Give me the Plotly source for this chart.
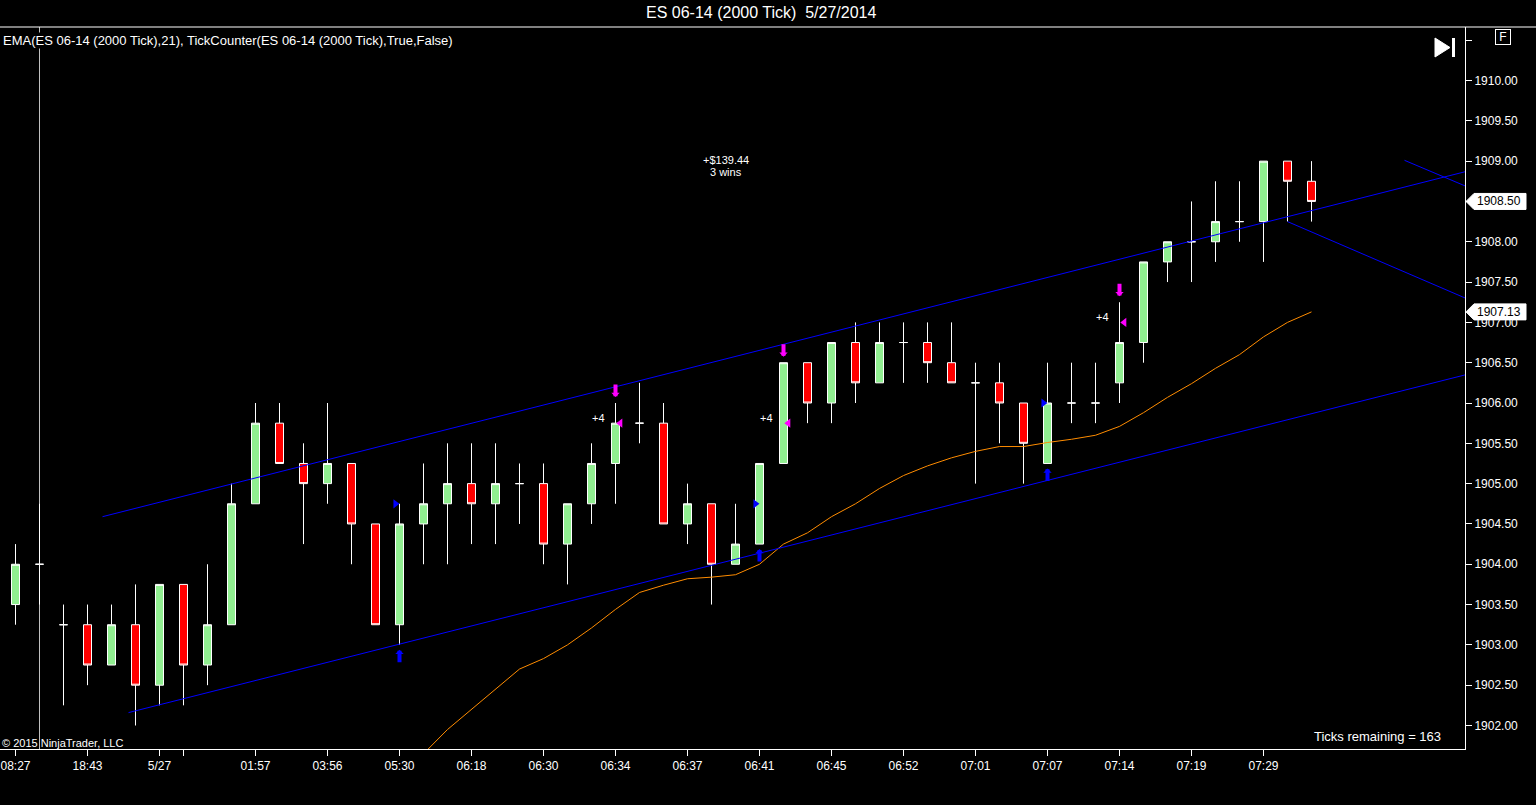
import plotly.graph_objects as go

# ES 06-14, 2000 tick bars, 5/27/2014 -- bar index on x
bars = list(range(55))
opens = [1903.50, 1904.00, 1903.25, 1903.25, 1902.75, 1903.25, 1902.50, 1903.75, 1902.75, 1903.25,
         1904.75, 1905.75, 1905.25, 1905.00, 1905.25, 1904.50, 1903.25, 1904.50, 1904.75, 1905.00,
         1904.75, 1905.00, 1905.00, 1904.25, 1904.75, 1905.25, 1905.75, 1905.75, 1904.50, 1904.75,
         1904.00, 1904.25, 1905.25, 1906.50, 1906.00, 1906.75, 1906.25, 1906.75, 1906.75, 1906.50,
         1906.25, 1906.25, 1906.00, 1905.25, 1906.00, 1906.00, 1906.25, 1906.75, 1907.75, 1908.00,
         1908.00, 1908.25, 1908.25, 1909.00, 1908.75]
highs = [1904.25, 1904.75, 1903.50, 1903.50, 1903.50, 1903.75, 1903.75, 1903.75, 1904.00, 1905.00,
         1906.00, 1906.00, 1905.50, 1906.00, 1905.25, 1904.50, 1904.75, 1905.25, 1905.50, 1905.50,
         1905.50, 1905.25, 1905.25, 1904.75, 1905.50, 1906.00, 1906.25, 1906.00, 1905.00, 1904.75,
         1904.75, 1905.25, 1906.50, 1906.50, 1906.75, 1907.00, 1907.00, 1907.00, 1907.00, 1907.00,
         1906.50, 1906.50, 1906.00, 1906.50, 1906.50, 1906.50, 1907.25, 1907.75, 1908.00, 1908.50,
         1908.75, 1908.75, 1909.00, 1909.00, 1909.00]
lows = [1903.25, 1903.50, 1902.25, 1902.50, 1902.75, 1902.00, 1902.25, 1902.25, 1902.50, 1903.25,
        1904.75, 1905.25, 1904.25, 1904.75, 1904.00, 1903.25, 1903.00, 1904.00, 1904.00, 1904.25,
        1904.25, 1904.50, 1904.00, 1903.75, 1904.50, 1904.75, 1905.50, 1904.50, 1904.25, 1903.50,
        1904.00, 1904.25, 1905.25, 1905.75, 1905.75, 1906.00, 1906.25, 1906.25, 1906.25, 1906.25,
        1905.00, 1905.50, 1905.00, 1905.25, 1905.75, 1905.75, 1906.00, 1906.50, 1907.50, 1907.50,
        1907.75, 1908.00, 1907.75, 1908.25, 1908.25]
closes = [1904.00, 1904.00, 1903.25, 1902.75, 1903.25, 1902.50, 1903.75, 1902.75, 1903.25, 1904.75,
          1905.75, 1905.25, 1905.00, 1905.25, 1904.50, 1903.25, 1904.50, 1904.75, 1905.00, 1904.75,
          1905.00, 1905.00, 1904.25, 1904.75, 1905.25, 1905.75, 1905.75, 1904.50, 1904.75, 1904.00,
          1904.25, 1905.25, 1906.50, 1906.00, 1906.75, 1906.25, 1906.75, 1906.75, 1906.50, 1906.25,
          1906.25, 1906.00, 1905.50, 1906.00, 1906.00, 1906.00, 1906.75, 1907.75, 1908.00, 1908.00,
          1908.25, 1908.25, 1909.00, 1908.75, 1908.50]
# EMA(21) - only the part that is inside the visible price range
ema21 = [None] * 16 + [
    1901.40, 1901.65, 1901.95, 1902.20, 1902.45, 1902.70, 1902.83, 1903.00, 1903.21, 1903.44,
    1903.65, 1903.74, 1903.82, 1903.84, 1903.87, 1904.00, 1904.25, 1904.39, 1904.59, 1904.75,
    1904.94, 1905.10, 1905.22, 1905.32, 1905.40, 1905.46, 1905.46, 1905.51, 1905.55, 1905.60,
    1905.71, 1905.88, 1906.07, 1906.24, 1906.43, 1906.60, 1906.82, 1907.00, 1907.13]

tick_bars = [0, 3, 6, 7, 10, 13, 16, 19, 22, 25, 28, 31, 34, 37, 40, 43, 46, 49, 52]
tick_labels = ['08:27', '18:43', '5/27', '', '01:57', '03:56', '05:30', '06:18', '06:30', '06:34',
               '06:37', '06:41', '06:45', '06:52', '07:01', '07:07', '07:14', '07:19', '07:29']
price_ticks = [1902.0, 1902.5, 1903.0, 1903.5, 1904.0, 1904.5, 1905.0, 1905.5, 1906.0,
               1906.5, 1907.0, 1907.5, 1908.0, 1908.5, 1909.0, 1909.5, 1910.0, 1910.5]
price_labels = ['1902.00', '1902.50', '1903.00', '1903.50', '1904.00', '1904.50', '1905.00',
                '1905.50', '1906.00', '1906.50', '1907.00', '1907.50', '1908.00', '1908.50',
                '1909.00', '1909.50', '1910.00', '']

# drawn trend lines: (bar, price) end points
upper_channel = [(3.625, 1904.59), (60.42, 1908.87)]
lower_channel = [(4.71, 1902.16), (60.42, 1906.35)]
down_line_a = [(53.0, 1908.25), (60.42, 1907.30)]
down_line_b = [(57.875, 1909.01), (60.42, 1908.69)]

# TickCounter trades
entry_bars = [16, 31, 43]
entry_prices = [1904.75, 1904.75, 1906.00]
exit_bars = [25, 32, 46]
exit_prices = [1905.75, 1905.75, 1907.00]
trade_ticks = ['+4', '+4', '+4']

session_break_bar = 1

# plot area in screen pixels
W, H = 1536, 805
PLOT_R, PLOT_T, PLOT_B = 1465, 27, 749
# half pixel offsets keep 1px wicks crisp
X_RANGE = [-0.6458, 60.396]
Y_RANGE = [1901.7085, 1910.6636]
FONT = 'Liberation Sans, Arial, sans-serif'


def px_x(px):
    return px / PLOT_R


def px_y(py):
    return (PLOT_B - py) / (PLOT_B - PLOT_T)


fig = go.Figure()

fig.add_trace(go.Candlestick(
    x=bars, open=opens, high=highs, low=lows, close=closes,
    increasing=dict(line=dict(color='white', width=1), fillcolor='#90EE90'),
    decreasing=dict(line=dict(color='white', width=1), fillcolor='#FF0000'),
    whiskerwidth=0, hoverinfo='skip'))

fig.add_trace(go.Scatter(x=bars, y=ema21, mode='lines',
                         line=dict(color='#FF8C00', width=1), hoverinfo='skip'))

for seg in [upper_channel, lower_channel, down_line_a, down_line_b]:
    fig.add_trace(go.Scatter(x=[p[0] for p in seg], y=[p[1] for p in seg], mode='lines',
                             line=dict(color='#0000FF', width=1), hoverinfo='skip'))

fig.add_trace(go.Scatter(x=[b - 0.17 for b in entry_bars], y=entry_prices, mode='markers',
                         marker=dict(symbol='triangle-right', size=8, color='#0000FF'),
                         hoverinfo='skip'))
fig.add_trace(go.Scatter(x=[b + 0.2 for b in exit_bars], y=exit_prices, mode='markers',
                         marker=dict(symbol='triangle-left', size=8, color='#FF00FF'),
                         hoverinfo='skip'))

# signal arrows
for b in entry_bars:
    fig.add_annotation(x=b, y=lows[b], ax=0, ay=19, text='', showarrow=True, font=dict(size=1),
                       arrowhead=1, arrowsize=0.35, arrowwidth=4, arrowcolor='#0000FF', standoff=5)
for b in exit_bars:
    fig.add_annotation(x=b, y=highs[b], ax=0, ay=-20, text='', showarrow=True, font=dict(size=1),
                       arrowhead=1, arrowsize=0.35, arrowwidth=4, arrowcolor='#FF00FF', standoff=6)
for b, p, t in zip(exit_bars, exit_prices, trade_ticks):
    fig.add_annotation(x=b, y=p, text=t, showarrow=False, xanchor='right', xshift=-9, yshift=5,
                       font=dict(size=11, color='white'))

# session break
fig.add_shape(type='line', x0=session_break_bar, x1=session_break_bar, y0=0, y1=1,
              xref='x', yref='paper', line=dict(color='#C0C0C0', width=1), layer='below')

# separator under the title
fig.add_shape(type='line', x0=0, x1=W / PLOT_R, y0=1, y1=1, xref='paper', yref='paper',
              line=dict(color='white', width=1))

# price markers on the axis
ppx = (Y_RANGE[1] - Y_RANGE[0]) / (PLOT_B - PLOT_T)
for price in [closes[-1], ema21[-1]]:
    h = 8 * ppx
    path = 'M {} {} L {} {} L {} {} L {} {} L {} {} Z'.format(
        px_x(PLOT_R + 1), price,
        px_x(PLOT_R + 9), price + h,
        px_x(PLOT_R + 61), price + h,
        px_x(PLOT_R + 61), price - h,
        px_x(PLOT_R + 9), price - h)
    fig.add_shape(type='path', path=path, xref='paper', yref='y', fillcolor='white',
                  line=dict(color='white', width=1), layer='above')
    fig.add_annotation(x=1, y=price, xref='paper', yref='y', xanchor='left', xshift=10,
                       text='{:.2f}'.format(price), showarrow=False,
                       font=dict(size=12, color='black'))

# go-to-end icon
tri = 'M {} {} L {} {} L {} {} Z'.format(px_x(1435), px_y(38), px_x(1435), px_y(57),
                                          px_x(1450), px_y(47.5))
fig.add_shape(type='path', path=tri, xref='paper', yref='paper', fillcolor='white',
              line=dict(color='white', width=1))
fig.add_shape(type='rect', x0=px_x(1452), x1=px_x(1455), y0=px_y(38), y1=px_y(57),
              xref='paper', yref='paper', fillcolor='white', line=dict(color='white', width=0))

texts = [
    dict(x=px_x(761), y=px_y(12), text='ES 06-14 (2000 Tick) \u00a05/27/2014', size=16,
         xa='center', bg='rgba(0,0,0,0)'),
    dict(x=px_x(2), y=px_y(40),
         text='EMA(ES 06-14 (2000 Tick),21), TickCounter(ES 06-14 (2000 Tick),True,False)',
         size=13, xa='left', bg='black'),
    dict(x=px_x(726), y=px_y(160), text='+$139.44', size=11, xa='center', bg='rgba(0,0,0,0)'),
    dict(x=px_x(726), y=px_y(172), text='3 wins', size=11, xa='center', bg='rgba(0,0,0,0)'),
    dict(x=px_x(1442), y=px_y(736), text='Ticks remaining = 163', size=13, xa='right',
         bg='rgba(0,0,0,0)'),
    dict(x=px_x(1), y=px_y(743), text='\u00a9 2015 NinjaTrader, LLC', size=11, xa='left',
         bg='rgba(0,0,0,0)'),
]
for t in texts:
    fig.add_annotation(x=t['x'], y=t['y'], xref='paper', yref='paper', text=t['text'],
                       showarrow=False, xanchor=t['xa'], yanchor='middle', bgcolor=t['bg'],
                       borderpad=0, font=dict(size=t['size'], color='white'))

fig.add_annotation(x=px_x(1502.5), y=px_y(36.5), xref='paper', yref='paper', text='F',
                   showarrow=False, xanchor='center', yanchor='middle',
                   font=dict(size=12, color='white'), width=12, height=12,
                   bordercolor='white', borderwidth=1, borderpad=1)

fig.update_layout(
    width=W, height=H,
    margin=dict(l=0, r=W - PLOT_R, t=PLOT_T, b=H - PLOT_B),
    paper_bgcolor='black', plot_bgcolor='black',
    font=dict(family=FONT, size=12, color='white'),
    showlegend=False, hovermode=False,
    boxgap=0.6667, boxgroupgap=0,
    xaxis=dict(range=X_RANGE, tickvals=tick_bars, ticktext=tick_labels,
               ticks='outside', ticklen=6, tickcolor='white', showline=True, linecolor='white',
               linewidth=1, showgrid=False, zeroline=False, rangeslider=dict(visible=False),
               ticklabeloverflow='allow', tickfont=dict(size=12, color='white')),
    yaxis=dict(side='right', range=Y_RANGE, tickvals=price_ticks, ticktext=price_labels,
               ticks='outside', ticklen=6, tickcolor='white', showline=True, linecolor='white',
               linewidth=1, showgrid=False, zeroline=False,
               tickfont=dict(size=12, color='white')),
)

fig.write_html('out.html', config={'displayModeBar': False},
               post_script="document.body.style.margin='0px';")
